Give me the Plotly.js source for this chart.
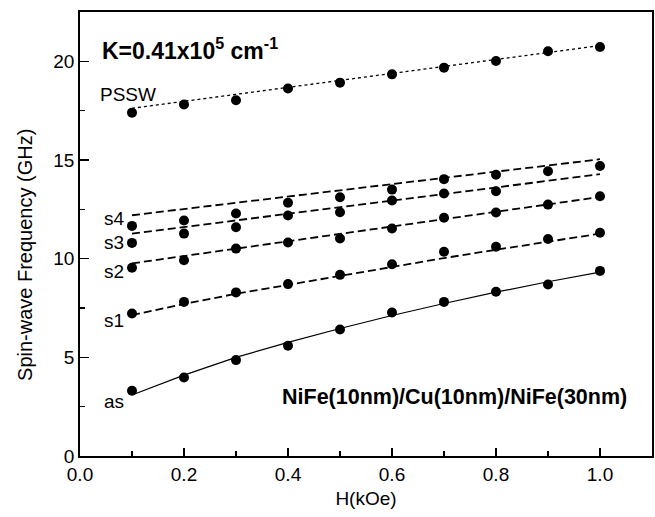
<!DOCTYPE html>
<html>
<head>
<meta charset="utf-8">
<script src="https://cdn.plot.ly/plotly-3.0.1.min.js"></script>
<style>html,body{margin:0;padding:0;background:#fff;}#chart{width:655px;height:517px;}</style>
</head>
<body>
<div id="chart"></div>
<script>
// Field values (kOe)
const H = [0.1, 0.2, 0.3, 0.4, 0.5, 0.6, 0.7, 0.8, 0.9, 1.0];

// Measured frequencies (GHz)
const psswData = [17.40, 17.81, 18.03, 18.62, 18.92, 19.34, 19.68, 20.02, 20.51, 20.73];
const s4Data   = [11.66, 11.93, 12.29, 12.83, 13.11, 13.50, 14.03, 14.25, 14.43, 14.70];
const s3Data   = [10.80, 11.27, 11.59, 12.19, 12.35, 12.95, 13.30, 13.42, null, null];
const s2Data   = [9.54, 9.92, 10.51, 10.82, 11.02, 11.53, 12.07, 12.34, 12.74, 13.16];
const s1Data   = [7.22, 7.81, 8.29, 8.71, 9.18, 9.72, 10.35, 10.60, 11.00, 11.31];
const asData   = [3.31, 3.98, 4.86, 5.59, 6.41, 7.27, 7.81, 8.32, 8.69, 9.38];

// Calculated curves (GHz)
const psswFit = [17.62, 17.97, 18.33, 18.68, 19.03, 19.39, 19.74, 20.09, 20.45, 20.80];
const s4Fit   = [12.20, 12.52, 12.83, 13.15, 13.46, 13.78, 14.09, 14.41, 14.72, 15.04];
const s3Fit   = [11.27, 11.60, 11.94, 12.27, 12.61, 12.94, 13.28, 13.61, 13.95, 14.28];
const s2Fit   = [9.76, 10.13, 10.51, 10.88, 11.26, 11.63, 12.00, 12.38, 12.75, 13.13];
const s1Fit   = [7.14, 7.70, 8.22, 8.68, 9.13, 9.58, 10.03, 10.45, 10.87, 11.27];
const asFit   = [3.09, 4.10, 5.00, 5.76, 6.46, 7.12, 7.73, 8.30, 8.83, 9.32];

// Text
const modeLabels = ["PSSW", "s4", "s3", "s2", "s1", "as"];
const xTitle = "H(kOe)";
const yTitle = "Spin-wave Frequency (GHz)";
const kLabel = "K=0.41x10<sup>5</sup> cm<sup>-1</sup>";
const sampleLabel = "NiFe(10nm)/Cu(10nm)/NiFe(30nm)";

const FONT = "Liberation Sans, Arial, Helvetica, sans-serif";
const fitStyles = [
  {dash: "dot", width: 1.3},
  {dash: "8px,4px", width: 1.8},
  {dash: "8px,4px", width: 1.8},
  {dash: "8px,4px", width: 1.8},
  {dash: "8px,4px", width: 1.8},
  {dash: "solid", width: 1.2}
];
const fits = [psswFit, s4Fit, s3Fit, s2Fit, s1Fit, asFit];
const datas = [psswData, s4Data, s3Data, s2Data, s1Data, asData];

const traces = [];
fits.forEach((f, i) => {
  traces.push({x: H, y: f, mode: "lines", type: "scatter", hoverinfo: "skip",
    line: {color: "#000", dash: fitStyles[i].dash, width: fitStyles[i].width}, showlegend: false});
});
datas.forEach((d, i) => {
  traces.push({x: H, y: d, mode: "markers", type: "scatter", name: modeLabels[i],
    marker: {color: "#000", size: 10, symbol: "circle"}, showlegend: false});
});

// label positions (data coords)
const labelPos = [[0.035, 18.33], [0.042, 12.05], [0.042, 10.8], [0.042, 9.33], [0.042, 6.85], [0.042, 2.75]];
const annotations = modeLabels.map((t, i) => ({
  text: t, x: labelPos[i][0], y: labelPos[i][1], xref: "x", yref: "y",
  xanchor: "left", yanchor: "middle", showarrow: false,
  font: {family: FONT, size: 19, color: "#000"}
}));
annotations.push({text: "<b>" + kLabel + "</b>", x: 0.038, y: 20.64, xref: "x", yref: "y",
  xanchor: "left", yanchor: "middle", showarrow: false, font: {family: FONT, size: 23, color: "#000"}});
annotations.push({text: "<b>" + sampleLabel + "</b>", x: 1.056, y: 3.0, xref: "x", yref: "y",
  xanchor: "right", yanchor: "middle", showarrow: false, font: {family: FONT, size: 21.5, color: "#000"}});
// y-axis title placed like the reference (slightly below the axis centre)
annotations.push({text: yTitle, x: -0.096, y: 0.453, xref: "paper", yref: "paper", showarrow: false,
  xanchor: "center", yanchor: "middle",
  textangle: -90, font: {family: FONT, size: 20, color: "#000"}});

const layout = {
  width: 655, height: 517,
  margin: {l: 80, r: 3, t: 12, b: 61, pad: 0},
  paper_bgcolor: "#fff", plot_bgcolor: "#fff",
  font: {family: FONT, size: 18, color: "#000"},
  xaxis: {
    range: [0, 1.1], dtick: 0.2, tick0: 0, tickformat: ".1f",
    ticks: "inside", ticklen: 8, tickwidth: 1.3, tickcolor: "#000",
    minor: {dtick: 0.1, ticks: "inside", ticklen: 5, tickwidth: 1.2, tickcolor: "#000"},
    showline: true, linecolor: "#000", linewidth: 1.8, mirror: true,
    showgrid: false, zeroline: false,
    tickfont: {family: FONT, size: 19, color: "#000"},
    title: {text: xTitle, font: {family: FONT, size: 19, color: "#000"}, standoff: 8}
  },
  yaxis: {
    range: [0, 22.5], dtick: 5, tick0: 0,
    ticks: "inside", ticklen: 9, tickwidth: 1.3, tickcolor: "#000",
    minor: {dtick: 2.5, ticks: "inside", ticklen: 5, tickwidth: 1.2, tickcolor: "#000"},
    showline: true, linecolor: "#000", linewidth: 1.8, mirror: true,
    showgrid: false, zeroline: false,
    tickfont: {family: FONT, size: 19, color: "#000"}
  },
  annotations: annotations
};

Plotly.newPlot("chart", traces, layout, {staticPlot: true, displayModeBar: false});
</script>
</body>
</html>
